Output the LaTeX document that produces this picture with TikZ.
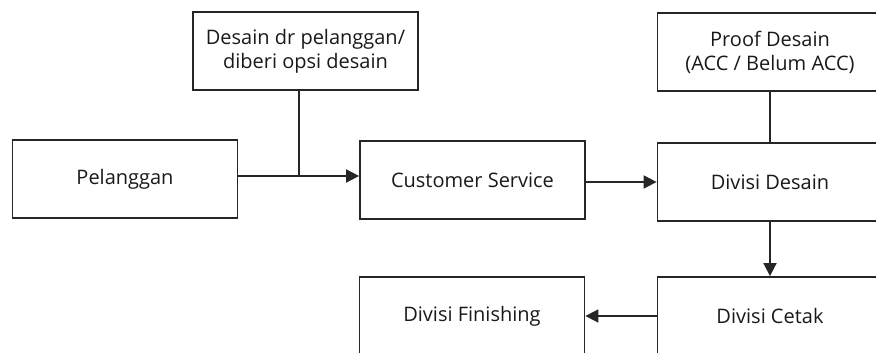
\documentclass[tikz,border=0pt]{standalone}
\usepackage{fontspec}
\setmainfont{Open Sans}
\usetikzlibrary{arrows.meta}
\begin{document}
\begin{tikzpicture}[x=1pt,y=1pt,
  box/.style={draw=black!85,line width=1.8pt,minimum width=225pt,minimum height=78pt,
    inner sep=0pt,align=center,font=\fontsize{20}{24}\selectfont,text=black!90},
  conn/.style={draw=black!85,line width=1.8pt},
  arr/.style={conn,-{Triangle[length=13pt,width=13pt]}}]
\useasboundingbox (0,0) rectangle (876,353);
\node[box] (pel) at (125,174) {Pelanggan};
\node[box] (ddp) at (305.5,302) {Desain dr pelanggan/\\diberi opsi desain};
\node[box] (cs) at (472.5,173) {Customer Service};
\node[box] (proof) at (770,301) {Proof Desain\\(ACC / Belum ACC)};
\node[box] (dd) at (770,171) {Divisi Desain};
\node[box] (cetak) at (770,37) {Divisi Cetak};
\node[box] (fin) at (472,37) {Divisi Finishing};
\coordinate (j) at (299,177);
\draw[arr] (pel.east |- j) -- (cs.west |- j);
\draw[conn] (ddp.south -| j) -- (j);
\draw[arr] (cs.east |- 0,171) -- (dd.west |- 0,171);
\draw[conn] (proof.south) -- (dd.north);
\draw[arr] (dd.south) -- (cetak.north);
\draw[arr] (cetak.west) -- (fin.east);
\end{tikzpicture}
\end{document}
